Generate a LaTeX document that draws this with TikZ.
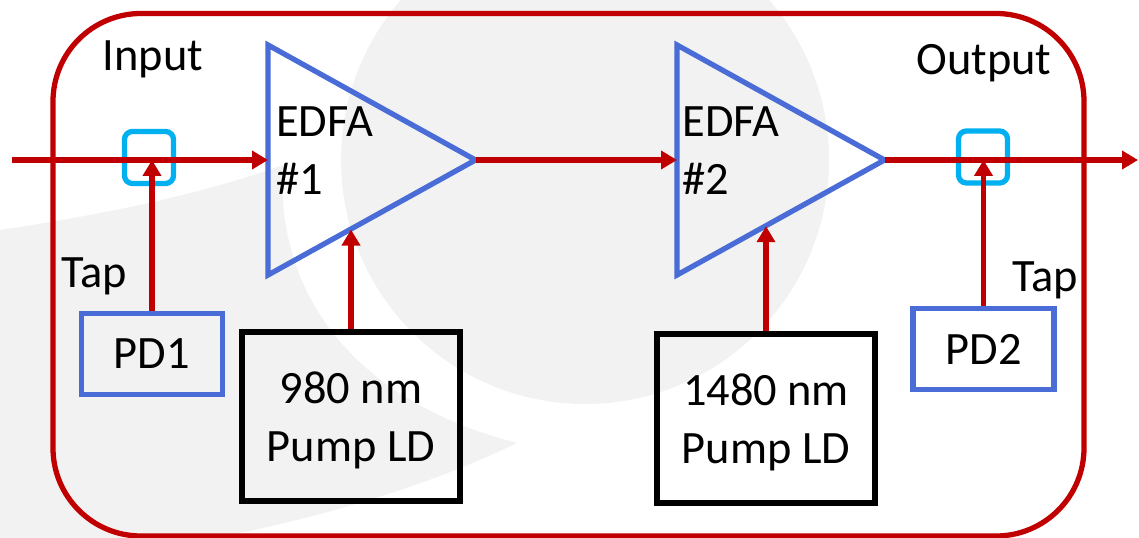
\documentclass[tikz,border=0pt]{standalone}
\usepackage{fontspec}
\setmainfont{Carlito}
\usetikzlibrary{arrows.meta,calc,shapes.geometric}
\definecolor{fibrered}{HTML}{C00000}
\definecolor{edfablue}{RGB}{74,108,214}
\definecolor{tapcyan}{HTML}{00B0F0}
\definecolor{logogray}{HTML}{F2F2F2}
\newcommand{\diagfont}{\fontsize{26.4}{33}\selectfont}
\newcommand{\pumpstrut}{\rule{0pt}{22.8pt}}
\tikzset{
  fibre/.style={draw=fibrered,line width=3pt},
  fibrearrow/.style={fibre,-{Triangle[length=3.2mm,width=3.6mm]}},
  ampbox/.style={draw=edfablue,line width=3pt,isosceles triangle,
    isosceles triangle stretches,minimum width=4.6cm,minimum height=4.15cm,
    inner sep=0pt,outer sep=0pt},
  pdbox/.style={draw=edfablue,line width=3pt,minimum width=2.82cm,
    minimum height=1.62cm,font=\diagfont},
  pumpbox/.style={draw=black,line width=3pt,minimum width=4.36cm,
    minimum height=3.38cm,align=center,font=\diagfont},
  tapbox/.style={draw=tapcyan,line width=3pt,rounded corners=4.5pt,
    minimum width=0.98cm,minimum height=1.04cm,inner sep=0pt},
  figurelabel/.style={font=\diagfont,inner sep=0pt}
}

\begin{document}
\begin{tikzpicture}[x=0.2mm,y=-0.2mm]
  \useasboundingbox (0,0) rectangle (1139,538);

  % faint logo in the background
  \fill[logogray] (585,160) circle[radius=244];
  \fill[logogray] (0,230) .. controls (100,215) and (200,195) .. (283,165)
    .. controls (275,290) and (350,400) .. (517,443)
    .. controls (420,490) and (300,525) .. (150,550) -- (0,550) -- cycle;

  % module outline
  \draw[fibre,rounded corners=1.76cm] (53,13.5) rectangle (1084,536);

  % amplifier stages
  \node[ampbox,anchor=west] (amp1) at (268,160) {};
  \node[ampbox,anchor=west] (amp2) at (677,160) {};
  \node[figurelabel,anchor=west,align=left] (amp1label) at (276,151) {EDFA\\\#1};
  \node[figurelabel,anchor=west,align=left] (amp2label) at (682,151) {EDFA\\\#2};

  % pump lasers
  \node[pumpbox] (pump1) at (351,416.5) {\pumpstrut980 nm\\Pump LD};
  \node[pumpbox] (pump2) at (766,418.5) {\pumpstrut1480 nm\\Pump LD};

  % taps and monitor photodiodes
  \node[tapbox] (tap1) at (149,157.5) {};
  \node[tapbox] (tap2) at (983,157) {};
  \node[pdbox] (pd1) at (152,354) {PD1};
  \node[pdbox] (pd2) at (983.5,349) {PD2};

  \node[figurelabel,anchor=base] (inlabel) at (153,71) {Input};
  \node[figurelabel,anchor=base] (outlabel) at (984,75) {Output};
  \node[figurelabel,anchor=base] (taplabel1) at (94,288) {Tap};
  \node[figurelabel,anchor=base] (taplabel2) at (1045,292) {Tap};

  % signal path
  \coordinate (in) at (12,160);
  \coordinate (out) at (1138,160);
  \draw[fibrearrow] (in) -- (amp1.west);
  \draw[fibrearrow] (amp1.apex) -- (amp2.west);
  \draw[fibrearrow] (amp2.apex) -- (out);

  % pump and tap branches
  \draw[fibrearrow] (pump1.north)
    -- (pump1.north |- {$(amp1.right corner)!0.395!(amp1.apex)$});
  \draw[fibrearrow] (pump2.north)
    -- (pump2.north |- {$(amp2.right corner)!0.424!(amp2.apex)$});
  \draw[fibrearrow] (pd1.north) -- (pd1.north |- in);
  \draw[fibrearrow] (pd2.north) -- (pd2.north |- out);
\end{tikzpicture}
\end{document}
